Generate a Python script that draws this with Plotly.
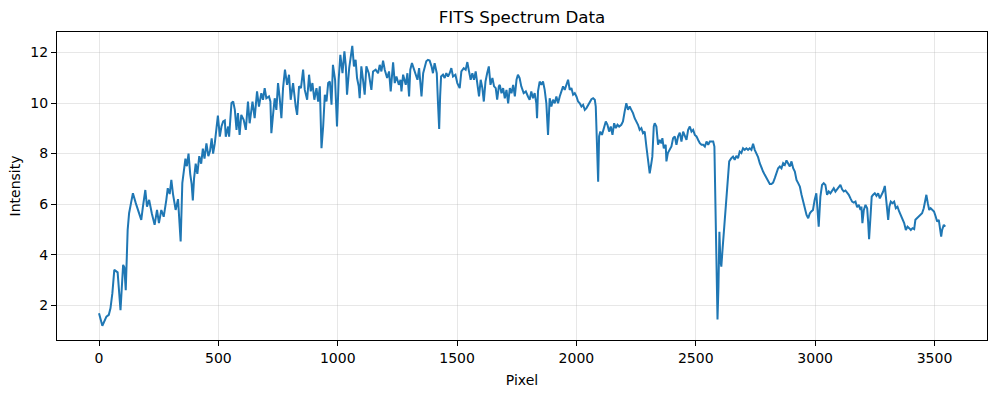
import plotly.graph_objects as go

# Spectrum samples (pixel index, intensity)
pixel = [
    0, 14, 31, 41, 48, 56, 64, 73, 78, 90, 101, 106, 112, 120, 126, 134, 142, 154, 163, 170,
    177, 184, 194, 201, 210, 221, 233, 243, 251, 261, 271, 282, 288, 296, 303, 310, 321, 331, 342, 349,
    355, 362, 368, 375, 382, 388, 393, 398, 405, 412, 420, 428, 435, 442, 450, 458, 465, 472, 478, 485,
    492, 498, 503,
    506, 513, 520, 527, 531, 541, 545, 555, 562, 569, 576, 582, 589, 596, 606, 615, 624, 631, 643, 652,
    662, 670, 680, 687, 694, 701, 712, 718, 722, 729, 736, 743, 750, 757, 764, 771, 779, 788, 796, 803,
    813, 824, 830, 838, 846, 855, 862, 872, 880, 887, 894, 902, 911, 918, 925, 932, 939, 946, 953, 960,
    967, 974, 980, 989, 997, 1004, 1011, 1020, 1028, 1034, 1039, 1048, 1054, 1061, 1068, 1075, 1081, 1088,
    1092, 1099, 1106, 1113, 1120, 1130, 1141, 1148, 1159, 1169, 1176, 1183, 1190, 1197, 1207, 1215, 1222,
    1232, 1239, 1246, 1256, 1263, 1267, 1274, 1285, 1292, 1299, 1304, 1311, 1318, 1327, 1334, 1341, 1351,
    1358, 1364, 1371, 1378, 1385, 1393, 1399, 1406, 1415, 1420, 1425, 1429, 1433, 1441, 1448, 1455, 1462,
    1469, 1476, 1483, 1493, 1501, 1511, 1518, 1528, 1536, 1543, 1550, 1557, 1564, 1571, 1578, 1585, 1592,
    1599, 1606, 1612, 1619, 1626, 1633, 1640, 1648, 1655, 1662, 1668, 1675,
    1679, 1686, 1693, 1700, 1707, 1714, 1721, 1728, 1735, 1742, 1749, 1755, 1762, 1769, 1779, 1788, 1797,
    1804, 1811, 1818, 1825, 1832, 1835, 1839, 1846, 1853, 1860, 1867, 1874, 1881, 1888, 1895, 1902, 1909,
    1916, 1923, 1930, 1937, 1944, 1951, 1958, 1965, 1972, 1979, 1986, 1993, 2000, 2007, 2014, 2021, 2028,
    2035, 2042, 2049, 2056, 2063, 2070, 2077, 2081, 2085, 2091, 2095, 2100, 2107, 2114, 2123, 2130, 2137,
    2144, 2151, 2158, 2165, 2172, 2179, 2188, 2195, 2202, 2209, 2216, 2223, 2230, 2237, 2244, 2251, 2258,
    2265, 2272, 2279, 2286, 2293, 2300, 2307, 2314, 2318, 2324, 2328, 2335, 2342, 2349, 2356, 2360, 2366,
    2374, 2377, 2383, 2391, 2398, 2405, 2412, 2419, 2426, 2433, 2440, 2447, 2454, 2461, 2468, 2475, 2482,
    2489, 2496, 2503, 2510, 2517, 2524, 2531, 2538, 2545, 2552, 2559, 2566, 2573, 2578, 2582, 2587, 2591,
    2595, 2599, 2603, 2607, 2612, 2621, 2631, 2640, 2649, 2656, 2663, 2670, 2677, 2684, 2691, 2698, 2705,
    2712, 2719, 2726, 2733, 2740, 2747, 2754, 2761, 2768, 2775, 2782, 2789, 2796, 2803, 2810, 2817, 2824,
    2831, 2838, 2845,
    2852, 2859, 2866, 2873, 2880, 2887, 2894, 2901, 2908, 2915, 2922, 2929, 2936, 2943, 2950, 2957, 2964,
    2971, 2978, 2984, 2991, 2998, 3005, 3011, 3015, 3022, 3029, 3036, 3043, 3050, 3057, 3064, 3071, 3078,
    3085, 3092, 3099, 3106, 3113, 3120, 3127, 3134, 3141, 3148, 3155, 3162, 3169, 3176, 3183, 3190, 3194,
    3198, 3204, 3211, 3218, 3222, 3226, 3232, 3237, 3243, 3250, 3257, 3264, 3271, 3278, 3285, 3292, 3296,
    3301, 3306, 3311, 3317, 3324, 3331, 3338, 3345, 3352, 3359, 3366, 3373, 3380, 3387, 3394, 3401, 3408,
    3415, 3420, 3427, 3434, 3441, 3448, 3455, 3462, 3466, 3472, 3478, 3484, 3491, 3498, 3505, 3511, 3518,
    3522, 3528, 3532, 3539, 3545,
]

intensity = [
    1.68, 1.19, 1.55, 1.62, 1.88, 2.48, 3.40, 3.33, 3.30, 1.81, 3.60, 3.50, 2.60, 4.98, 5.64, 6.04, 6.43, 6.04, 5.77, 5.51,
    5.38, 5.90, 6.56, 5.90, 6.17, 5.64, 5.18, 5.77, 5.25, 5.77, 5.50, 6.17, 6.63, 6.40, 6.96, 6.40, 5.77, 6.20, 4.52, 6.83,
    7.20, 7.80, 7.50, 8.00, 7.20, 6.80, 6.15, 7.00, 7.60, 7.20, 7.90, 7.60, 8.20, 7.80, 8.40, 7.90, 8.10, 8.60, 8.00, 8.40,
    9.00, 9.50, 9.00,
    8.67, 9.07, 9.27, 9.31, 8.67, 9.07, 8.67, 10.00, 10.06, 9.73, 8.94, 9.60, 8.74, 9.53, 9.34, 8.94, 10.06, 9.20, 10.06, 9.40,
    10.46, 9.86, 10.39, 10.13, 10.59, 10.19, 10.26, 10.06, 8.81, 9.53, 10.19, 9.73, 10.79, 10.19, 9.40, 10.59, 11.32, 10.72, 11.12, 10.13,
    10.79, 9.86, 9.53, 10.66, 10.59, 11.32, 10.52, 10.13, 11.12, 10.46, 10.79, 10.13, 10.59, 10.06, 10.66, 8.21, 9.07, 10.33, 10.06, 10.79,
    10.85, 9.93, 11.51, 10.92, 9.07, 10.92, 11.91, 11.18, 12.04, 11.45, 10.33, 11.38, 11.71, 12.26, 11.45, 11.71, 10.99, 10.66,
    10.19, 11.45, 10.92, 10.33, 11.45, 11.18, 10.52, 11.25, 11.32, 11.18, 11.51, 11.25, 11.68, 11.32, 10.99, 11.25, 10.46,
    11.61, 10.79, 11.05, 10.72, 10.92, 10.46, 11.12, 10.72, 11.18, 10.26, 11.32, 11.58, 11.38, 11.18, 10.92, 11.38, 10.26,
    11.18, 11.38, 11.65, 11.71, 11.68, 11.45, 11.18, 11.58, 11.18, 10.00, 8.97, 10.26, 11.05, 11.12, 10.99, 11.18, 11.05,
    11.18, 11.38, 11.05, 11.12, 10.79, 10.59, 11.25, 11.38, 11.32, 11.62, 11.25, 10.92, 11.18, 10.92, 11.25, 10.79, 10.26,
    10.92, 10.59, 10.06, 10.85, 11.18, 11.45, 10.72, 10.99, 10.66, 10.59, 10.13, 10.66,
    10.72, 10.39, 10.59, 10.19, 10.52, 9.99, 10.59, 10.39, 10.72, 10.26, 10.92, 11.12, 10.99, 10.66, 10.39, 10.46, 10.26,
    10.13, 10.46, 10.19, 10.39, 9.99, 9.40, 10.46, 10.85, 10.72, 10.85, 10.52, 9.99, 8.74, 10.19, 9.86, 10.13, 9.99,
    10.26, 9.99, 10.26, 10.46, 10.66, 10.52, 10.72, 10.92, 10.52, 10.59, 10.33, 10.39, 10.26, 10.06, 9.99, 9.86, 9.93,
    9.73, 9.80, 9.93, 10.06, 10.15, 10.19, 10.13, 9.86, 8.41, 6.89, 8.68, 8.87, 8.74, 8.94, 9.27, 9.14, 8.87,
    9.07, 8.74, 9.20, 9.01, 9.14, 9.07, 9.14, 9.27, 9.66, 9.99, 9.73, 9.86, 9.73, 9.60, 9.40, 9.27, 9.14,
    8.94, 9.01, 8.81, 8.87, 8.28, 7.75, 7.22, 7.62, 7.88, 9.07, 9.20, 9.07, 8.35, 8.54, 8.41, 8.61, 8.21,
    8.35, 7.69, 8.02, 8.15, 8.28, 8.61, 8.68, 8.35, 8.68, 8.83, 8.48, 8.87, 8.68, 8.54, 8.94, 9.07, 8.87,
    8.94, 8.74, 8.68, 8.54, 8.41, 8.35, 8.35, 8.28, 8.48, 8.35, 8.48, 8.48, 8.48, 8.28, 5.90, 3.00, 1.44,
    2.74, 4.91, 3.79, 3.53, 4.19, 5.38, 6.56, 7.69, 7.82, 7.88, 7.75, 7.91, 7.82, 8.08, 8.02, 8.21, 8.15,
    8.21, 8.15, 8.21, 8.15, 8.39, 8.15, 8.02, 7.86, 7.62, 7.42, 7.29, 7.16, 7.03, 6.89, 6.80, 6.80, 6.85,
    7.03, 7.22, 7.42,
    7.49, 7.42, 7.62, 7.55, 7.73, 7.62, 7.49, 7.69, 7.42, 7.29, 6.96, 6.83, 6.70, 6.37, 6.10, 5.84, 5.57,
    5.44, 5.64, 5.71, 5.77, 6.17, 6.43, 5.64, 5.11, 6.30, 6.76, 6.83, 6.76, 6.37, 6.50, 6.43, 6.56, 6.63,
    6.50, 6.59, 6.70, 6.76, 6.59, 6.50, 6.54, 6.46, 6.37, 6.23, 6.10, 6.06, 6.10, 5.88, 5.97, 5.77, 5.90,
    5.25, 5.77, 5.97, 5.84, 5.31, 4.61, 5.51, 6.30, 6.37, 6.43, 6.33, 6.43, 6.23, 6.37, 6.50, 6.72, 6.30,
    5.77, 5.38, 5.90, 6.10, 6.04, 6.10, 5.84, 5.90, 5.71, 5.57, 5.38, 5.25, 4.98, 5.11, 5.05, 4.98, 5.05,
    5.01, 5.38, 5.44, 5.51, 5.57, 5.64, 5.84, 6.10, 6.37, 6.04, 5.77, 5.84, 5.77, 5.71, 5.51, 5.31, 5.38,
    5.05, 4.72, 4.98, 5.18, 5.11,
]

x_ticks = [0, 500, 1000, 1500, 2000, 2500, 3000, 3500]
y_ticks = [2, 4, 6, 8, 10, 12]

FONT = "DejaVu Sans"
GRID = "rgba(176,176,176,0.3)"

fig = go.Figure()
fig.add_trace(go.Scatter(
    x=pixel, y=intensity, mode="lines",
    line=dict(color="#1f77b4", width=2),
    showlegend=False, hoverinfo="x+y",
))

axis_common = dict(
    showline=True, linecolor="black", linewidth=1, mirror=True,
    ticks="outside", ticklen=5, tickwidth=1, tickcolor="black",
    showgrid=True, gridcolor=GRID, gridwidth=1, zeroline=False,
    automargin=False,
    tickfont=dict(family=FONT, size=14, color="black"),
)

fig.update_layout(
    width=996, height=393,
    margin=dict(l=57, r=9, t=32, b=53, autoexpand=False),
    paper_bgcolor="white", plot_bgcolor="white",
    font=dict(family=FONT, size=14, color="black"),
    title=dict(text="FITS Spectrum Data", x=0.5, xref="paper", xanchor="center",
               y=1 - 17 / 393, yref="container", yanchor="middle",
               font=dict(family=FONT, size=16.7, color="black")),
    xaxis=dict(range=[-176, 3720], tickvals=x_ticks,
               title=dict(text="Pixel", standoff=10, font=dict(family=FONT, size=14)),
               **axis_common),
    yaxis=dict(range=[0.626, 12.81], tickvals=y_ticks,
               title=dict(text="Intensity", standoff=6, font=dict(family=FONT, size=14)),
               **axis_common),
)

fig.write_html(
    "out.html",
    config={"displayModeBar": False},
    post_script="document.body.style.margin='0';document.body.style.overflow='hidden';",
)
